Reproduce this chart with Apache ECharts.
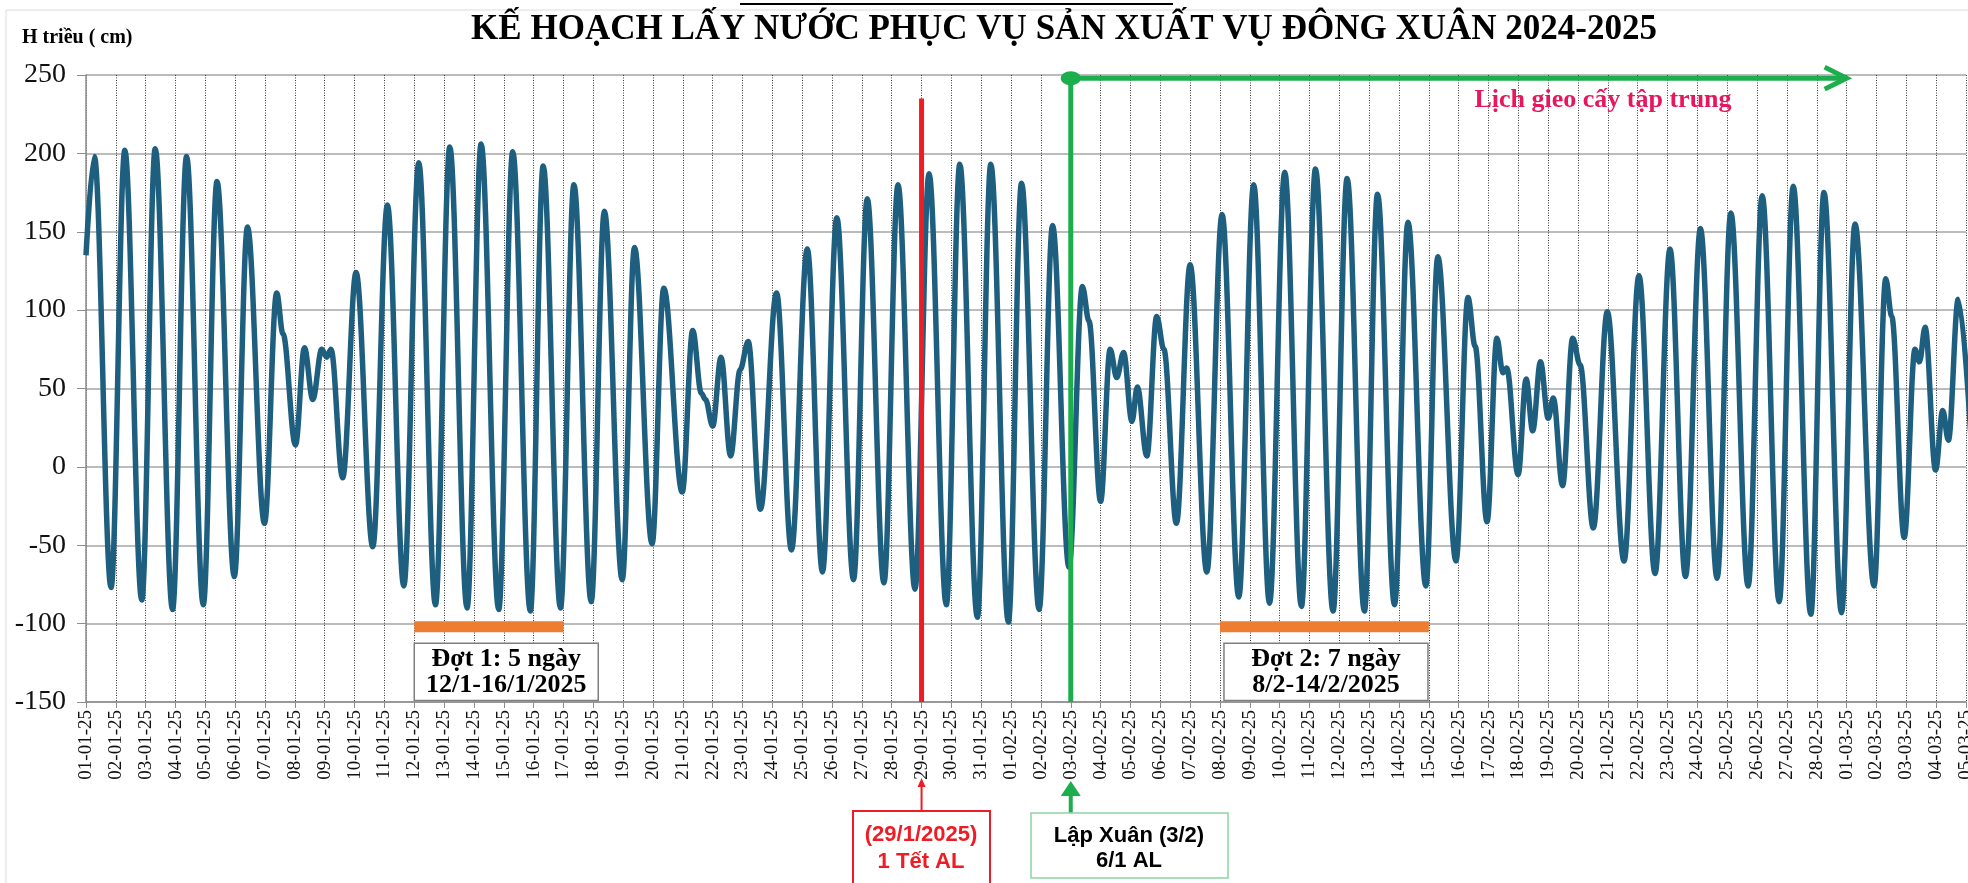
<!DOCTYPE html>
<html>
<head>
<meta charset="utf-8">
<title>Kế hoạch lấy nước vụ Đông Xuân 2024-2025</title>
<script src="https://cdn.jsdelivr.net/npm/echarts@6/dist/echarts.min.js"></script>
<style>
  html, body { margin: 0; padding: 0; background: #fff; }
  #chart { width: 1968px; height: 883px; }
</style>
</head>
<body>
<div id="chart"></div>
<script>
'use strict';

// nhãn ngày trên trục hoành
var dayLabels = [
  '01-01-25', '02-01-25', '03-01-25', '04-01-25', '05-01-25', '06-01-25', '07-01-25', '08-01-25',
  '09-01-25', '10-01-25', '11-01-25', '12-01-25', '13-01-25', '14-01-25', '15-01-25', '16-01-25',
  '17-01-25', '18-01-25', '19-01-25', '20-01-25', '21-01-25', '22-01-25', '23-01-25', '24-01-25',
  '25-01-25', '26-01-25', '27-01-25', '28-01-25', '29-01-25', '30-01-25', '31-01-25',
  '01-02-25', '02-02-25', '03-02-25', '04-02-25', '05-02-25', '06-02-25', '07-02-25', '08-02-25',
  '09-02-25', '10-02-25', '11-02-25', '12-02-25', '13-02-25', '14-02-25', '15-02-25', '16-02-25',
  '17-02-25', '18-02-25', '19-02-25', '20-02-25', '21-02-25', '22-02-25', '23-02-25', '24-02-25',
  '25-02-25', '26-02-25', '27-02-25', '28-02-25',
  '01-03-25', '02-03-25', '03-03-25', '04-03-25', '05-03-25'
];

// đỉnh / chân triều: thời điểm (ngày kể từ 01-01) và mực nước (cm)
var tideDay = [
  0, 0.28, 0.84, 1.30, 1.87, 2.32, 2.90, 3.37, 3.93, 4.39, 4.97, 5.41, 5.98,
  6.39, 6.60, 7.02, 7.32, 7.60, 7.90, 8.07, 8.21, 8.60, 9.05, 9.61, 10.10, 10.65,
  11.15, 11.71, 12.19, 12.77, 13.24, 13.83, 14.30, 14.89, 15.32, 15.90, 16.35, 16.93, 17.37, 17.97,
  18.38, 18.97, 19.36, 19.98, 20.33, 20.62, 20.76, 21.00, 21.28, 21.60, 21.92, 22.19, 22.60,
  23.14, 23.64, 24.17, 24.68, 25.16, 25.72, 26.18, 26.74, 27.21, 27.78, 28.25, 28.83,
  29.28, 29.87, 30.32, 30.91, 31.35, 31.94, 32.39, 32.94, 33.39, 33.61, 34.00,
  34.32, 34.54, 34.77, 35.05, 35.23, 35.55, 35.88, 36.12, 36.54, 37.00, 37.56,
  38.07, 38.63, 39.13, 39.66, 40.17, 40.73, 41.20, 41.79, 42.26, 42.84, 43.28, 43.85,
  44.30, 44.90, 45.30, 45.91, 46.31, 46.55, 46.95, 47.28, 47.48, 47.61, 47.99, 48.26, 48.48, 48.74, 49.00, 49.17, 49.48,
  49.82, 50.07, 50.51, 50.98, 51.54, 52.04, 52.58, 53.08, 53.60, 54.10, 54.66, 55.12, 55.70,
  56.17, 56.74, 57.21, 57.80, 58.24, 58.83, 59.28, 59.92, 60.31, 60.51, 60.93, 61.29, 61.44, 61.63, 61.98, 62.22, 62.41, 62.74, 63.25
];
var tideLevel = [
  135, 198, -77, 202, -85, 203, -91, 198, -88, 182, -70, 153, -36,
  111, 85, 14, 76, 43, 75, 70, 75, -7, 124, -51, 167, -76,
  194, -88, 204, -90, 206, -91, 201, -92, 192, -90, 180, -86, 163, -72,
  140, -49, 114, -16, 87, 47, 43, 26, 70, 7, 62, 80, -27,
  111, -53, 139, -67, 159, -72, 171, -74, 180, -78, 187, -88,
  193, -96, 193, -99, 181, -91, 154, -64, 115, 93, -22,
  75, 57, 73, 29, 51, 7, 96, 75, -36, 129, -67,
  161, -83, 180, -87, 188, -89, 190, -92, 184, -92, 174, -88,
  156, -76, 134, -60, 108, 77, -35, 82, 60, 63, -5, 56, 23, 67, 31, 44, -12,
  82, 65, -39, 99, -60, 122, -68, 139, -70, 152, -71, 162, -76,
  173, -86, 179, -94, 175, -93, 155, -76, 120, 96, -45, 75, 67, 89, -2, 36, 17, 107, -10
];

// các mốc chú thích (ngày, mực)
var tetDay = 28, tetTop = 235;
var lapXuanDay = 33, plantTop = 248, plantEndDay = 59;
var phase1 = [11, 16], phase2 = [38, 45], phaseLevel = -102;

var SERIF = "'Liberation Serif', 'Times New Roman', serif";
var SANS = "'Liberation Sans', Arial, sans-serif";
var GREEN = '#1cae4c';
var RED = '#ee1c24';

var chart = echarts.init(document.getElementById('chart'));

var tideData = tideDay.map(function (d, i) {
  return [d, tideLevel[i]];
});

var option = {
  animation: false,
  backgroundColor: '#fff',
  grid: { left: 86, right: 2, top: 75, bottom: 181, outerBoundsMode: 'none' },
  xAxis: {
    type: 'value',
    min: 0,
    max: dayLabels.length - 1,
    interval: 1,
    axisLine: { show: true, onZero: false, lineStyle: { color: '#8c8c8c', width: 1.5 } },
    axisTick: { show: true, length: 6, lineStyle: { color: '#8c8c8c' } },
    axisLabel: {
      rotate: 90,
      margin: 8,
      fontFamily: SERIF,
      fontSize: 19,
      color: '#111',
      showMinLabel: true,
      showMaxLabel: true,
      formatter: function (v) { return dayLabels[v] || ''; }
    },
    splitLine: { show: true, lineStyle: { color: '#3a3a3a', type: [1, 1.5], width: 1 } }
  },
  yAxis: {
    type: 'value',
    min: -150,
    max: 250,
    interval: 50,
    axisLine: { show: true, lineStyle: { color: '#8c8c8c', width: 1.5 } },
    axisTick: { show: true, length: 9, lineStyle: { color: '#8c8c8c' } },
    axisLabel: { margin: 20, fontFamily: SERIF, fontSize: 28, color: '#111' },
    splitLine: { show: true, lineStyle: { color: '#a6a6a6', width: 1.5 } }
  },
  series: [{
    name: 'H triều',
    type: 'line',
    data: tideData,
    showSymbol: false,
    smooth: 0.36,
    smoothMonotone: 'x',
    lineStyle: { color: '#1e5f80', width: 5.5 },
    z: 3
  }]
};

chart.setOption(option);

function px(d, v) {
  return chart.convertToPixel({ gridIndex: 0 }, [d, v]);
}

function txt(x, y, text, font, fill, lh) {
  return {
    type: 'text', x: x, y: y, z: 100,
    style: {
      text: text, font: font, fill: fill, lineHeight: lh,
      align: 'center', verticalAlign: 'middle',
      textAlign: 'center', textVerticalAlign: 'middle'
    }
  };
}

var tetA = px(tetDay, tetTop), tetB = px(tetDay, -150);
var lxA = px(lapXuanDay, plantTop), lxB = px(lapXuanDay, -150);
var plEnd = px(plantEndDay, plantTop);
var p1a = px(phase1[0], phaseLevel), p1b = px(phase1[1], phaseLevel);
var p2a = px(phase2[0], phaseLevel), p2b = px(phase2[1], phaseLevel);
var boxTop = px(0, -112.5)[1], boxBot = px(0, -149)[1];

var graphics = [
  { type: 'rect', z: 0, shape: { x: 6, y: 10, width: 2000, height: 900 },
    style: { fill: 'none', stroke: '#dcdcdc', lineWidth: 1 } },
  { type: 'line', z: 100, shape: { x1: 740, y1: 4, x2: 1173, y2: 4 },
    style: { stroke: '#000', lineWidth: 2 } },
  txt(1064, 30, 'KẾ HOẠCH LẤY NƯỚC PHỤC VỤ SẢN XUẤT VỤ ĐÔNG XUÂN 2024-2025', 'bold 35px ' + SERIF, '#000'),
  { type: 'text', x: 22, y: 38, z: 100,
    style: { text: 'H triều ( cm)', font: 'bold 20px ' + SERIF, fill: '#000',
      align: 'left', verticalAlign: 'middle', textAlign: 'left', textVerticalAlign: 'middle' } },

  // đường Tết
  { type: 'line', z: 100, shape: { x1: tetA[0], y1: tetA[1], x2: tetB[0], y2: tetB[1] },
    style: { stroke: RED, lineWidth: 5 } },
  // Lập Xuân + lịch gieo cấy
  { type: 'line', z: 100, shape: { x1: lxA[0], y1: lxA[1], x2: lxB[0], y2: lxB[1] },
    style: { stroke: GREEN, lineWidth: 5 } },
  { type: 'line', z: 100, shape: { x1: lxA[0], y1: lxA[1], x2: plEnd[0] - 3, y2: plEnd[1] },
    style: { stroke: GREEN, lineWidth: 5 } },
  { type: 'polyline', z: 100,
    shape: { points: [[plEnd[0] - 22, plEnd[1] - 11], [plEnd[0], plEnd[1]], [plEnd[0] - 22, plEnd[1] + 11]] },
    style: { stroke: GREEN, lineWidth: 5, fill: 'none', lineJoin: 'miter' } },
  { type: 'ellipse', z: 101, shape: { cx: lxA[0], cy: lxA[1], rx: 10, ry: 7 }, style: { fill: GREEN } },
  txt(1603, 100, 'Lịch gieo cấy tập trung', 'bold 26px ' + SERIF, '#e6175c'),

  // đợt lấy nước
  { type: 'rect', z: 100, shape: { x: p1a[0], y: p1a[1] - 5.5, width: p1b[0] - p1a[0], height: 11 },
    style: { fill: '#ed7d31' } },
  { type: 'rect', z: 100, shape: { x: p2a[0], y: p2a[1] - 5.5, width: p2b[0] - p2a[0], height: 11 },
    style: { fill: '#ed7d31' } },
  { type: 'rect', z: 100, shape: { x: p1a[0], y: boxTop, width: 184, height: boxBot - boxTop },
    style: { fill: '#fff', stroke: '#7f7f7f', lineWidth: 1.5 } },
  txt(p1a[0] + 92, (boxTop + boxBot) / 2, 'Đợt 1: 5 ngày\n12/1-16/1/2025', 'bold 26px ' + SERIF, '#000', 26),
  { type: 'rect', z: 100, shape: { x: p2a[0] + 4, y: boxTop, width: 204, height: boxBot - boxTop },
    style: { fill: '#fff', stroke: '#7f7f7f', lineWidth: 1.5 } },
  txt(p2a[0] + 106, (boxTop + boxBot) / 2, 'Đợt 2: 7 ngày\n8/2-14/2/2025', 'bold 26px ' + SERIF, '#000', 26),

  // chú thích dưới trục
  { type: 'line', z: 100, shape: { x1: tetB[0], y1: 812, x2: tetB[0], y2: 784 },
    style: { stroke: RED, lineWidth: 2 } },
  { type: 'polygon', z: 100, shape: { points: [[tetB[0] - 4, 787], [tetB[0], 778], [tetB[0] + 4, 787]] },
    style: { fill: RED } },
  { type: 'rect', z: 100, shape: { x: 853, y: 811, width: 137, height: 90 },
    style: { fill: '#fff', stroke: RED, lineWidth: 2 } },
  txt(921, 848, '(29/1/2025)\n1 Tết AL', 'bold 22px ' + SANS, RED, 27),

  { type: 'line', z: 100, shape: { x1: lxB[0], y1: 813, x2: lxB[0], y2: 792 },
    style: { stroke: GREEN, lineWidth: 4 } },
  { type: 'polygon', z: 100, shape: { points: [[lxB[0] - 10, 796], [lxB[0], 781], [lxB[0] + 10, 796]] },
    style: { fill: GREEN } },
  { type: 'rect', z: 100, shape: { x: 1031, y: 813, width: 197, height: 65 },
    style: { fill: '#fff', stroke: '#8fd3a3', lineWidth: 1.5 } },
  txt(1129, 848, 'Lập Xuân (3/2)\n6/1 AL', 'bold 22px ' + SANS, '#000', 25)
];

chart.setOption({ graphic: graphics });
</script>
</body>
</html>
